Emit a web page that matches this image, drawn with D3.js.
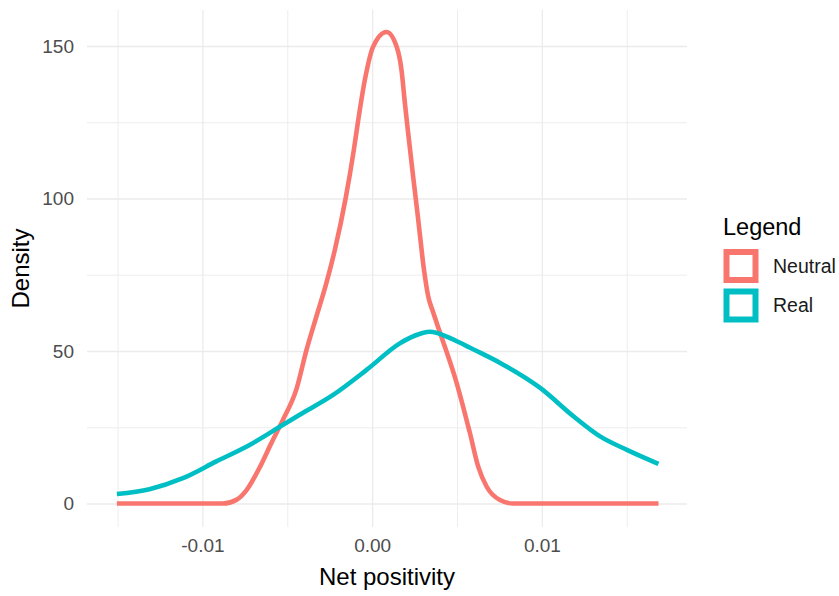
<!DOCTYPE html>
<html>
<head>
<meta charset="utf-8">
<script src="https://cdn.jsdelivr.net/npm/d3@7"></script>
<style>
  body { margin: 0; background: #fff; }
  svg { display: block; font-family: "Liberation Sans", Arial, sans-serif; }
  .tick-label text { fill: #4d4d4d; }
</style>
</head>
<body>
<svg id="chart" width="839" height="596"></svg>
<script>
// density curves (x = net positivity, y = density)
const neutralX = [-0.01504, -0.0088, -0.0080, -0.0074, -0.0066, -0.00594, -0.00525, -0.00446,
  -0.00387, -0.00328, -0.00269, -0.0022, -0.00155, -0.00108, -0.00082, -0.00043, 0.00006,
  0.00085, 0.00144, 0.00173, 0.00193, 0.00209, 0.00242, 0.00271, 0.00305, 0.0033, 0.0036,
  0.004, 0.00498, 0.00576, 0.00625, 0.00675, 0.00753, 0.0083, 0.01687];
const neutralY = [0, 0, 1.2, 4.4, 12.1, 19.8, 27.5, 37.5,
  50.3, 61.4, 72.4, 83.1, 100.4, 115.9, 125.7, 138.9, 149.8,
  154.6, 149.8, 142.1, 131.2, 123, 107, 93.3, 76.8, 68, 62.6,
  56, 39.5, 23.1, 12.1, 5.5, 1.15, 0, 0];

const realX = [-0.01504, -0.01312, -0.01115, -0.00918, -0.00722, -0.00525, -0.00427, -0.0023,
  -0.00033, 0.00163, 0.0025, 0.0034, 0.0045, 0.00557, 0.00616, 0.00754,
  0.0099, 0.01186, 0.01343, 0.01501, 0.01687];
const realY = [3.1, 4.7, 8.3, 13.8, 19.2, 25.8, 29.1, 35.6,
  43.8, 52.5, 55, 56.3, 54.5, 51.6, 50, 46.1,
  37.9, 28.6, 22, 17.6, 13];

const seriesNames = ["Neutral", "Real"];
const seriesColors = ["#F8766D", "#00BFC4"];

const xMajor = [-0.01, 0, 0.01];
const xMinor = [-0.015, -0.005, 0.005, 0.015];
const xLabels = ["-0.01", "0.00", "0.01"];
const yMajor = [0, 50, 100, 150];
const yMinor = [25, 75, 125];

// panel geometry
const panel = { left: 87, right: 687, top: 10, bottom: 527 };
const svg = d3.select("#chart");

const x = d3.scaleLinear().domain([-0.0168, 0.01855]).range([panel.left, panel.right]);
const y = d3.scaleLinear().domain([-7.7, 161.8]).range([panel.bottom, panel.top]);

// grid lines (minor first, then major)
const grid = svg.append("g").attr("class", "grid");
function gridAxisX(values, w) {
  grid.append("g")
    .attr("transform", `translate(0,${panel.bottom})`)
    .call(d3.axisBottom(x).tickValues(values).tickSize(-(panel.bottom - panel.top)).tickFormat(""))
    .call((g) => g.select(".domain").remove())
    .call((g) => g.selectAll("line").attr("stroke", "#ebebeb").attr("stroke-width", w));
}
function gridAxisY(values, w) {
  grid.append("g")
    .attr("transform", `translate(${panel.left},0)`)
    .call(d3.axisLeft(y).tickValues(values).tickSize(-(panel.right - panel.left)).tickFormat(""))
    .call((g) => g.select(".domain").remove())
    .call((g) => g.selectAll("line").attr("stroke", "#ebebeb").attr("stroke-width", w));
}
gridAxisX(xMinor, 0.9);
gridAxisY(yMinor, 0.9);
gridAxisX(xMajor, 1.3);
gridAxisY(yMajor, 1.3);

// tick labels
svg.append("g")
  .attr("class", "tick-label")
  .attr("transform", `translate(${panel.left - 4},0)`)
  .call(d3.axisLeft(y).tickValues(yMajor).tickSize(0).tickPadding(9))
  .call((g) => g.select(".domain").remove())
  .call((g) => g.selectAll("text").attr("font-size", 19).attr("font-family", null));

svg.append("g")
  .attr("class", "tick-label")
  .attr("transform", `translate(0,${panel.bottom + 2})`)
  .call(d3.axisBottom(x).tickValues(xMajor).tickSize(0).tickPadding(10)
    .tickFormat((d, i) => xLabels[i]))
  .call((g) => g.select(".domain").remove())
  .call((g) => g.selectAll("text").attr("font-size", 19).attr("font-family", null));

// density lines
const line = d3.line()
  .x((d) => x(d[0]))
  .y((d) => y(d[1]))
  .curve(d3.curveMonotoneX);

const series = [
  d3.zip(neutralX, neutralY),
  d3.zip(realX, realY),
];

svg.append("g")
  .selectAll("path")
  .data(series)
  .join("path")
  .attr("d", line)
  .attr("fill", "none")
  .attr("stroke", (_, i) => seriesColors[i])
  .attr("stroke-width", 4.6)
  .attr("stroke-linejoin", "round");

// axis titles
svg.append("text")
  .attr("x", (panel.left + panel.right) / 2)
  .attr("y", 585)
  .attr("text-anchor", "middle")
  .attr("font-size", 24)
  .attr("fill", "#000")
  .text("Net positivity");

svg.append("text")
  .attr("transform", `translate(29,${(panel.top + panel.bottom) / 2}) rotate(-90)`)
  .attr("text-anchor", "middle")
  .attr("font-size", 24)
  .attr("fill", "#000")
  .text("Density");

// legend
const legend = svg.append("g").attr("transform", "translate(723,0)");
legend.append("text")
  .attr("x", 0)
  .attr("y", 235)
  .attr("font-size", 23.5)
  .attr("fill", "#000")
  .text("Legend");

const keys = legend.selectAll("g.key")
  .data(seriesNames)
  .join("g")
  .attr("class", "key")
  .attr("transform", (_, i) => `translate(0,${249 + i * 39.5})`);

keys.append("rect")
  .attr("x", 3.5)
  .attr("y", 3)
  .attr("width", 29)
  .attr("height", 28)
  .attr("fill", "none")
  .attr("stroke", (_, i) => seriesColors[i])
  .attr("stroke-width", 6);

keys.append("text")
  .attr("x", 50)
  .attr("y", 17)
  .attr("dy", "0.35em")
  .attr("font-size", 19.5)
  .attr("fill", "#1a1a1a")
  .text((d) => d);
</script>
</body>
</html>
